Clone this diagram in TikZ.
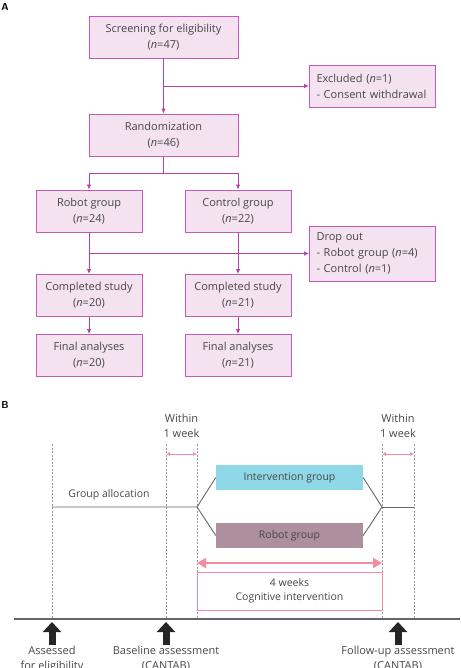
\documentclass[tikz,border=0pt]{standalone}
\usepackage{fontspec}
\setmainfont{Open Sans}
\usepackage{tikz}
\usetikzlibrary{arrows.meta}

\definecolor{boxfill}{HTML}{F4E2F1}
\definecolor{boxline}{HTML}{C45AB7}
\definecolor{flow}{HTML}{B940A8}
\definecolor{txt}{HTML}{474747}
\definecolor{guideline}{HTML}{9A9A9A}
\definecolor{salmon}{HTML}{F28C9E}
\definecolor{intcyan}{HTML}{8FD8E7}
\definecolor{robmauve}{HTML}{AD8F9D}

\tikzset{
  flowbox/.style={draw=boxline, fill=boxfill, line width=0.9pt, text=txt,
    align=center, font=\fontsize{11}{16}\selectfont, inner sep=2pt},
  notebox/.style={flowbox, align=left, inner xsep=7pt, text width=112pt},
  flowline/.style={draw=flow, line width=0.9pt},
  guide/.style={draw=guideline, line width=0.5pt, dash pattern=on 2pt off 1.5pt},
  greyline/.style={draw=black!60, line width=0.9pt},
  week/.style={draw=salmon, line width=0.8pt, {Latex[length=4pt,width=4pt]}-{Latex[length=4pt,width=4pt]}},
  label/.style={text=txt, align=center, font=\fontsize{11}{15}\selectfont},
}

\begin{document}
\begin{tikzpicture}[x=1pt, y=-1pt, >={Latex[length=5pt,width=4.5pt]}]
\useasboundingbox (0,0) rectangle (460,668);

% panel A: flow chart
\node [font=\bfseries\sffamily] (tagA) at (5,7) {A};

\node [flowbox, minimum width=149pt, minimum height=42pt] (screen) at (163.5,37)
  {Screening for eligibility\\(\textit{n}=47)};
\node [notebox, minimum height=42pt] (excl) at (372.5,86)
  {Excluded (\textit{n}=1)\\- Consent withdrawal};
\node [flowbox, minimum width=149pt, minimum height=42pt] (rand) at (163.5,135)
  {Randomization\\(\textit{n}=46)};

\foreach \g/\x/\l in {robot/89/Robot group, control/238/Control group}
  \node [flowbox, minimum width=106pt, minimum height=42pt] (\g) at (\x,211)
    {\l\\(\textit{n}=\ifnum\x=89 24\else 22\fi)};

\foreach \g/\x/\n in {robot/89/20, control/238/21} {
  \node [flowbox, minimum width=106pt, minimum height=42pt] (done-\g) at (\x,295.5)
    {Completed study\\(\textit{n}=\n)};
  \node [flowbox, minimum width=106pt, minimum height=42pt] (final-\g) at (\x,355.5)
    {Final analyses\\(\textit{n}=\n)};
}

\node [notebox, minimum height=55pt] (drop) at (372.5,253.5)
  {Drop out\\- Robot group (\textit{n}=4)\\- Control (\textit{n}=1)};

\coordinate (split) at (163.5,86);
\coordinate (fork) at (163.5,173);
\coordinate (dropsplit) at (89,253.5);

\draw [flowline, ->] (screen) -- (rand);
\draw [flowline, ->] (split) -- (excl.west);
\draw [flowline] (rand) -- (fork);
\draw [flowline, ->] (fork) -| (robot.north);
\draw [flowline, ->] (fork) -| (control.north);
\draw [flowline, ->] (dropsplit) -- (drop.west);

\foreach \g in {robot, control} {
  \draw [flowline, ->] (\g) -- (done-\g);
  \draw [flowline, ->] (done-\g) -- (final-\g);
}

% panel B: time line
\node [font=\bfseries\sffamily] (tagB) at (5,405) {B};

\foreach \x [count=\i] in {52,166,197,382,414} {
  \coordinate (top\i) at (\x,444);
  \coordinate (bot\i) at (\x,619);
  \coordinate (mark\i) at (\x,454);
  \coordinate (alloc\i) at (\x,507);
  \draw [guide] (top\i) -- (bot\i);
}

\node [label] (within1) at (181.5,426) {Within\\1 week};
\node [label] (within2) at (398,426) {Within\\1 week};
\draw [week] (mark2) -- (mark3);
\draw [week] (mark4) -- (mark5);

\node [fill=intcyan, minimum width=147pt, minimum height=25pt, text=txt,
  font=\fontsize{10.5}{13}\selectfont] (interv) at (289.5,477.5) {Intervention group};
\node [fill=robmauve, minimum width=147pt, minimum height=25pt, text=txt,
  font=\fontsize{10.5}{13}\selectfont] (robbar) at (289.5,535.5) {Robot group};

\draw [greyline] (alloc1) -- (alloc3) -- (interv.west);
\draw [greyline] (alloc3) -- (robbar.west);
\draw [greyline] (interv.east) -- (alloc4) -- (robbar.east);
\draw [greyline] (alloc4) -- (alloc5);
\node [label, font=\fontsize{10.5}{13}\selectfont] (alloctext) at (109,495) {Group allocation};

\coordinate (span1) at (197,563);
\coordinate (span2) at (382,563);
\draw [draw=salmon, line width=2pt,
  {Triangle[length=9pt,width=10pt]}-{Triangle[length=9pt,width=10pt]}] (span1) -- (span2);
\node [draw=salmon, line width=1pt, fill=white, minimum width=185pt, minimum height=38pt,
  label, font=\fontsize{10.5}{14}\selectfont] (cog) at (289.5,591)
  {4 weeks\\Cognitive intervention};

\coordinate (line0) at (14,619);
\coordinate (line1) at (460,619);
\draw [greyline, line width=1.1pt] (line0) -- (line1);

% the second lines run past the lower edge of the page
\foreach \x/\t [count=\i] in {52/Assessed\\for eligibility,
    166/Baseline assessment\\(CANTAB),
    398/Follow-up assessment\\(CANTAB)} {
  \coordinate (hit\i) at (\x,622);
  \node [label, anchor=north, inner sep=1pt] (assess\i) at (\x,645) {\t};
  \draw [black!85, line width=7pt, -{Triangle[length=10pt,width=18pt]}]
    (assess\i.north) -- (hit\i);
}

\end{tikzpicture}
\end{document}
